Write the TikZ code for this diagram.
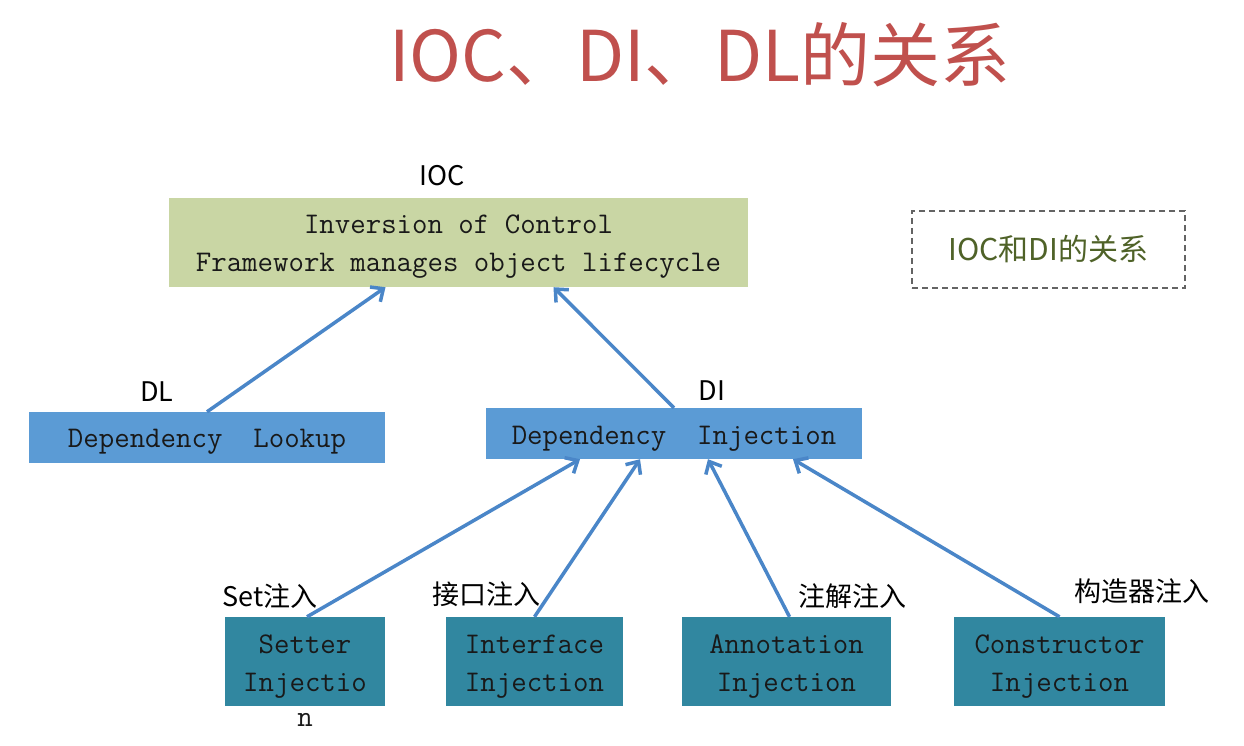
\documentclass[tikz,border=0pt]{standalone}
\usepackage{fontspec}
\newfontfamily\cjk{Noto Sans CJK SC}
\usetikzlibrary{arrows.meta}
\definecolor{titlered}{RGB}{192,80,77}
\definecolor{iocgreen}{RGB}{201,214,164}
\definecolor{diblue}{RGB}{91,155,213}
\definecolor{injteal}{RGB}{49,135,160}
\definecolor{arrowblue}{RGB}{74,134,200}
\definecolor{olive}{RGB}{79,98,40}
\definecolor{dashgray}{RGB}{100,100,100}
\tikzset{
  monotext/.style={font=\ttfamily\fontsize{30}{38}\selectfont, text=black!90, align=center, inner sep=0pt},
  greenbox/.style={fill=iocgreen, draw=none, minimum width=579pt, minimum height=89pt, inner sep=0pt},
  bluebox/.style={fill=diblue, draw=none, minimum height=51pt, inner sep=0pt},
  tealbox/.style={fill=injteal, draw=none, minimum height=89pt, inner sep=0pt},
  tag/.style={font=\cjk\fontsize{27}{32}\selectfont, text=black, inner sep=0pt},
  link/.style={draw=arrowblue, line width=3.5pt, -{Straight Barb[length=10pt,width=18pt,line width=3.5pt]}},
}
\begin{document}
\begin{tikzpicture}[x=1pt,y=-1pt]
\useasboundingbox[fill=white] (0,0) rectangle (1244,746);
% title
\node[font=\cjk\fontsize{70}{80}\selectfont, text=titlered, inner sep=0pt] (title) at (700,55) {IOC、DI、DL的关系};
% IOC
\node[tag] (ioclabel) at (442,176) {IOC};
\node[greenbox] (ioc) at (458.5,242.5) {};
\node[monotext] (ioctext) at ([yshift=-4pt]ioc.center) {Inversion of Control\\Framework manages object lifecycle};
% dashed legend
\node[draw=dashgray, line width=1.4pt, dash pattern=on 6pt off 4pt, minimum width=273pt, minimum height=77pt, inner sep=0pt,
      font=\cjk\fontsize{30}{36}\selectfont, text=olive] (legend) at (1048.5,249.5) {IOC和DI的关系};
% DL and DI
\node[tag] (dllabel) at (157,392) {DL};
\node[bluebox, minimum width=356pt] (dl) at (207,437.5) {};
\node[monotext] (dltext) at ([yshift=-4pt]dl.center) {Dependency\ \ Lookup};
\node[tag] (dilabel) at (712,391) {DI};
\node[bluebox, minimum width=376pt] (di) at (674,433.5) {};
\node[monotext] (ditext) at ([yshift=-5pt]di.center) {Dependency\ \ Injection};
% bottom boxes
\node[tealbox, minimum width=160pt] (setter) at (305,661.5) {};
\node[monotext] (settertext) at ([yshift=-5pt]setter.center) {Setter\\Injectio};
\node[monotext] (settern) at (305,720) {n};
\node[tealbox, minimum width=177pt] (interface) at (534.5,661.5) {};
\node[monotext] (interfacetext) at ([yshift=-5pt]interface.center) {Interface\\Injection};
\node[tealbox, minimum width=209pt] (annotation) at (786.5,661.5) {};
\node[monotext] (annotationtext) at ([yshift=-5pt]annotation.center) {Annotation\\Injection};
\node[tealbox, minimum width=211pt] (constructor) at (1059.5,661.5) {};
\node[monotext] (constructortext) at ([yshift=-5pt]constructor.center) {Constructor\\Injection};
% labels
\node[tag] (setlabel) at (270,596) {Set注入};
\node[tag] (iflabel) at (486,594) {接口注入};
\node[tag] (anlabel) at (852,596) {注解注入};
\node[tag] (colabel) at (1142,591) {构造器注入};
% arrows
\draw[link] (dl.north) -- ([xshift=-73pt]ioc.south);
\draw[link] (di.north) -- ([xshift=95pt]ioc.south);
\draw[link] ([xshift=2pt]setter.north) -- ([xshift=-94pt]di.south);
\draw[link] (interface.north) -- ([xshift=-34pt]di.south);
\draw[link] ([xshift=3pt]annotation.north) -- ([xshift=34pt]di.south);
\draw[link] (constructor.north) -- ([xshift=119pt]di.south);
\end{tikzpicture}
\end{document}
